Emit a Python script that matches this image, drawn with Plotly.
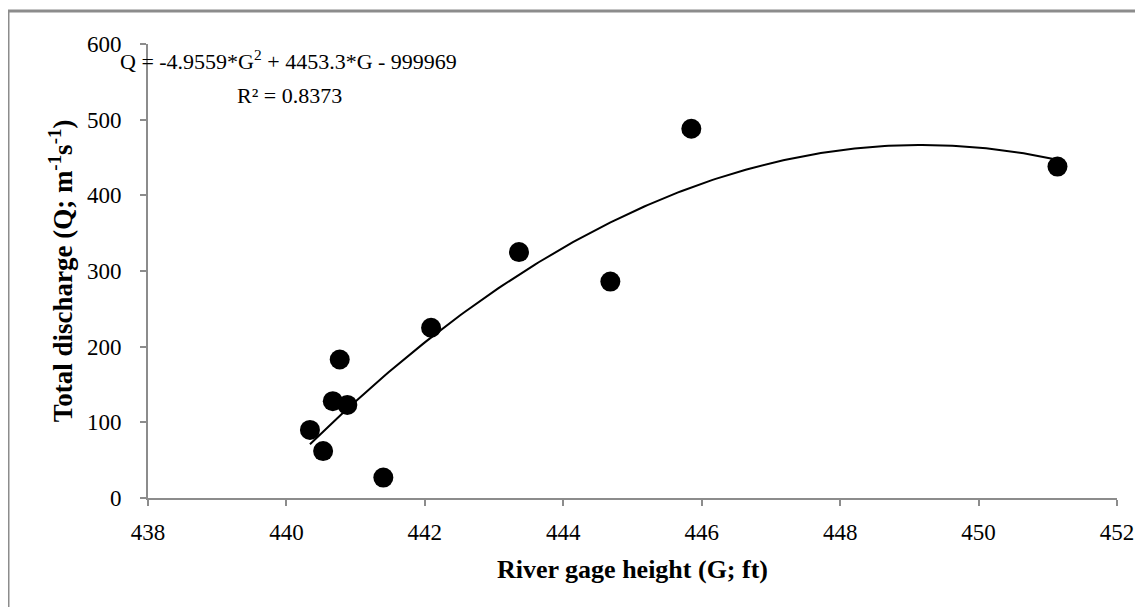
import numpy as np
import plotly.graph_objects as go

# Data
gage_height = [440.34, 440.53, 440.67, 440.77, 440.88, 441.40, 442.09, 443.36, 444.68, 445.85, 451.14]
discharge = [90, 62, 128, 183, 123, 27, 225, 325, 286, 488, 438]

eq_text = "Q = -4.9559*G<sup>2</sup> + 4453.3*G - 999969"
r2_text = "R² = 0.8373"
x_title = "<b>River gage height (G; ft)</b>"
y_title = "<b>Total discharge (Q; m<sup>-1</sup>s<sup>-1</sup>)</b>"

coef = np.polyfit(gage_height, discharge, 2)
g_fit = np.linspace(min(gage_height), max(gage_height), 200)
q_fit = np.polyval(coef, g_fit)

FONT = "Liberation Serif"

fig = go.Figure()
fig.add_trace(go.Scatter(x=g_fit, y=q_fit, mode="lines",
                         line=dict(color="black", width=2), hoverinfo="skip"))
fig.add_trace(go.Scatter(x=gage_height, y=discharge, mode="markers",
                         marker=dict(color="black", size=20)))

axis_common = dict(showgrid=False, zeroline=False, showline=True, linecolor="#8c8c8c",
                   linewidth=2, ticks="outside", tickcolor="#8c8c8c", ticklen=6, tickwidth=2,
                   automargin=False,
                   tickfont=dict(family=FONT, size=23, color="black"))

fig.update_xaxes(range=[438, 452], tickvals=list(range(438, 453, 2)),
                 title=dict(text=x_title, font=dict(family=FONT, size=26, color="black"), standoff=16),
                 ticklabelstandoff=6, **axis_common)
fig.update_yaxes(range=[0, 600], tickvals=list(range(0, 601, 100)),
                 title=dict(text=y_title, font=dict(family=FONT, size=27, color="black"), standoff=6),
                 ticklabelstandoff=14, **axis_common)

PW, PH = 969, 454
fig.add_annotation(xref="paper", yref="paper", x=(288 - 148) / PW, y=(498 - 60) / PH,
                   xanchor="center", yanchor="middle",
                   text=eq_text, showarrow=False, font=dict(family=FONT, size=22, color="black"))
fig.add_annotation(xref="paper", yref="paper", x=(289 - 148) / PW, y=(498 - 95) / PH,
                   xanchor="center", yanchor="middle",
                   text=r2_text, showarrow=False, font=dict(family=FONT, size=22, color="black"))

# outer frame (only top and left edges are visible in the reference)
frame = dict(color="#8c8c8c", width=3)
fig.add_shape(type="line", xref="paper", yref="paper",
              x0=(8 - 148) / PW, x1=(1135 - 148) / PW,
              y0=(498 - 11) / PH, y1=(498 - 11) / PH, line=frame, layer="below")
fig.add_shape(type="line", xref="paper", yref="paper",
              x0=(8 - 148) / PW, x1=(8 - 148) / PW,
              y0=(498 - 607) / PH, y1=(498 - 11) / PH, line=frame, layer="below")

fig.update_layout(width=1127, height=599, showlegend=False,
                  margin=dict(l=140, r=18, t=36, b=109),
                  plot_bgcolor="white", paper_bgcolor="white",
                  font=dict(family=FONT, size=22, color="black"))

fig.write_html("out.html")
